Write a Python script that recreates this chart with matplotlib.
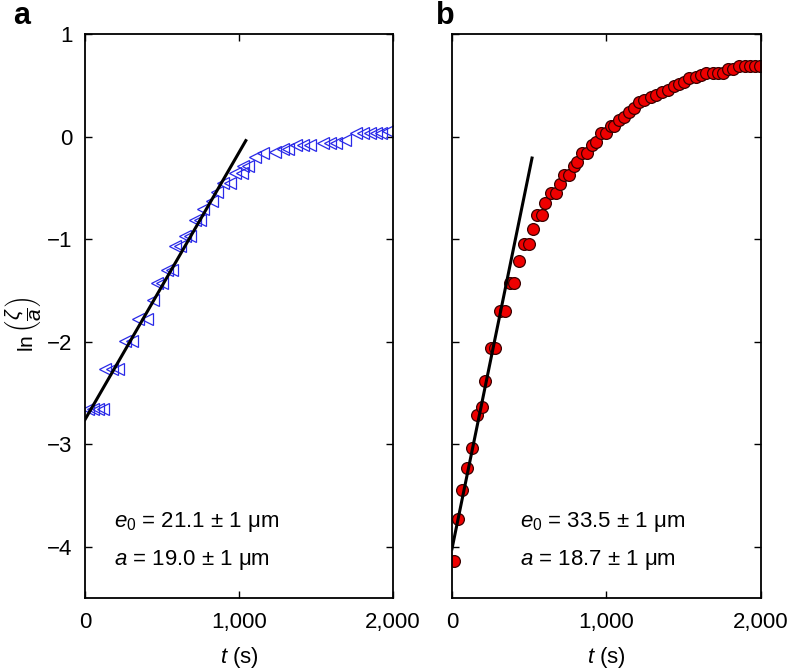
import matplotlib
matplotlib.use("Agg")
import matplotlib.pyplot as plt
import numpy as np

plt.rcParams['font.family'] = ['Liberation Sans', 'DejaVu Sans']
plt.rcParams['mathtext.fontset'] = 'custom'
plt.rcParams['mathtext.rm'] = 'Liberation Sans'
plt.rcParams['mathtext.it'] = 'Liberation Sans:italic'
plt.rcParams['mathtext.bf'] = 'Liberation Sans:bold'

# Panel a data (t in s, ln(zeta/a))
t_a = [22, 54, 86, 119, 130, 173, 216, 259, 303, 346, 400, 443, 465, 497, 530, 562,
       584, 616, 649, 681, 713, 746, 768, 822, 854, 897, 941, 973, 1016, 1027, 1059,
       1103, 1157, 1232, 1286, 1319, 1373, 1416, 1459, 1546, 1589, 1632, 1686,
       1762, 1805, 1849, 1892, 1924, 1967]
y_a = [-2.66, -2.66, -2.66, -2.66, -2.27, -2.27, -2.27, -1.99, -1.99, -1.78, -1.78,
       -1.59, -1.43, -1.43, -1.30, -1.30, -1.07, -1.07, -0.97, -0.97, -0.81, -0.81,
       -0.71, -0.63, -0.54, -0.45, -0.45, -0.36, -0.36, -0.29, -0.29, -0.20, -0.16,
       -0.15, -0.12, -0.12, -0.08, -0.08, -0.08, -0.06, -0.06, -0.06, -0.03,
       0.03, 0.03, 0.03, 0.03, 0.03, 0.05]
fit_a_t = [0, 1044]
fit_a_y = [-2.76, -0.04]

# Panel b data
t_b = [15, 41, 67, 97, 128, 160, 193, 215, 250, 280, 312, 344, 377, 403, 435, 468,
       500, 522, 550, 583, 605, 644, 676, 702, 724, 760, 789, 810, 843, 876, 908,
       930, 962, 995, 1027, 1048, 1081, 1114, 1146, 1179, 1211, 1244, 1287, 1320,
       1359, 1395, 1438, 1471, 1504, 1536, 1580, 1612, 1645, 1688, 1720, 1753,
       1785, 1818, 1861, 1894, 1926, 1959, 1991]
y_b = [-4.14, -3.73, -3.45, -3.23, -3.04, -2.72, -2.64, -2.38, -2.06, -2.06, -1.70,
       -1.70, -1.43, -1.43, -1.21, -1.05, -1.05, -0.90, -0.77, -0.77, -0.65, -0.55,
       -0.55, -0.46, -0.38, -0.38, -0.29, -0.25, -0.16, -0.16, -0.08, -0.05, 0.03,
       0.03, 0.10, 0.10, 0.16, 0.19, 0.24, 0.28, 0.34, 0.36, 0.39, 0.40, 0.43, 0.45,
       0.49, 0.51, 0.53, 0.57, 0.58, 0.60, 0.62, 0.62, 0.62, 0.62, 0.66, 0.66, 0.69,
       0.69, 0.69, 0.69, 0.69]
fit_b_t = [0, 518]
fit_b_y = [-4.02, -0.21]

xticks = [0, 1000, 2000]
xticklabels = ['0', '1,000', '2,000']
yticks = [-4, -3, -2, -1, 0, 1]
yticklabels = ['\u22124', '\u22123', '\u22122', '\u22121', '0', '1']

fig = plt.figure(figsize=(7.88, 6.70), dpi=100)
axa = fig.add_axes([0.1079, 0.1075, 0.3909, 0.8418])
axb = fig.add_axes([0.5736, 0.1075, 0.3921, 0.8418])

FS = 16
for ax in (axa, axb):
    ax.set_xlim(0, 2000)
    ax.set_ylim(-4.5, 1)
    ax.set_xticks(xticks)
    ax.set_xticklabels(xticklabels, fontsize=FS)
    ax.set_yticks(yticks)
    ax.tick_params(direction='in', top=True, right=True, length=5, width=1.0,
                   labelsize=FS)
    ax.tick_params(axis='x', pad=10)
    ax.tick_params(axis='y', pad=9)
    for s in ax.spines.values():
        s.set_linewidth(1.3)
    ax.set_xlabel(r'$t$ (s)', fontsize=FS, labelpad=9)

axa.set_yticklabels(yticklabels, fontsize=FS)
axb.set_yticklabels([])

axa.plot(t_a, y_a, linestyle='none', marker='<', markersize=9, markerfacecolor='none',
         markeredgecolor='#2a2ae8', markeredgewidth=0.9)
axa.plot(fit_a_t, fit_a_y, color='black', linewidth=2.2)

axb.plot(t_b, y_b, linestyle='none', marker='o', markersize=8.5, markerfacecolor='#ee0000',
         markeredgecolor='#3a0000', markeredgewidth=0.9)
axb.plot(fit_b_t, fit_b_y, color='black', linewidth=2.2)

axa.set_ylabel(r'$\mathrm{ln}\,\left(\dfrac{\zeta}{a}\right)$', fontsize=15)
axa.yaxis.label.set_verticalalignment('center')
axa.yaxis.set_label_coords(-0.2, 0.485)

axa.text(0.095, 0.135, r'$e_0$ = 21.1 ± 1 μm', transform=axa.transAxes, fontsize=FS,
         va='center')
axa.text(0.095, 0.067, r'$a$ = 19.0 ± 1 μm', transform=axa.transAxes, fontsize=FS,
         va='center')
axb.text(0.22, 0.135, r'$e_0$ = 33.5 ± 1 μm', transform=axb.transAxes, fontsize=FS,
         va='center')
axb.text(0.22, 0.067, r'$a$ = 18.7 ± 1 μm', transform=axb.transAxes, fontsize=FS,
         va='center')

fig.text(13 / 788, 1 - 24 / 670, 'a', fontsize=22, fontweight='bold', va='baseline')
fig.text(436 / 788, 1 - 24 / 670, 'b', fontsize=22, fontweight='bold', va='baseline')

fig.savefig('out.png', dpi=100)
